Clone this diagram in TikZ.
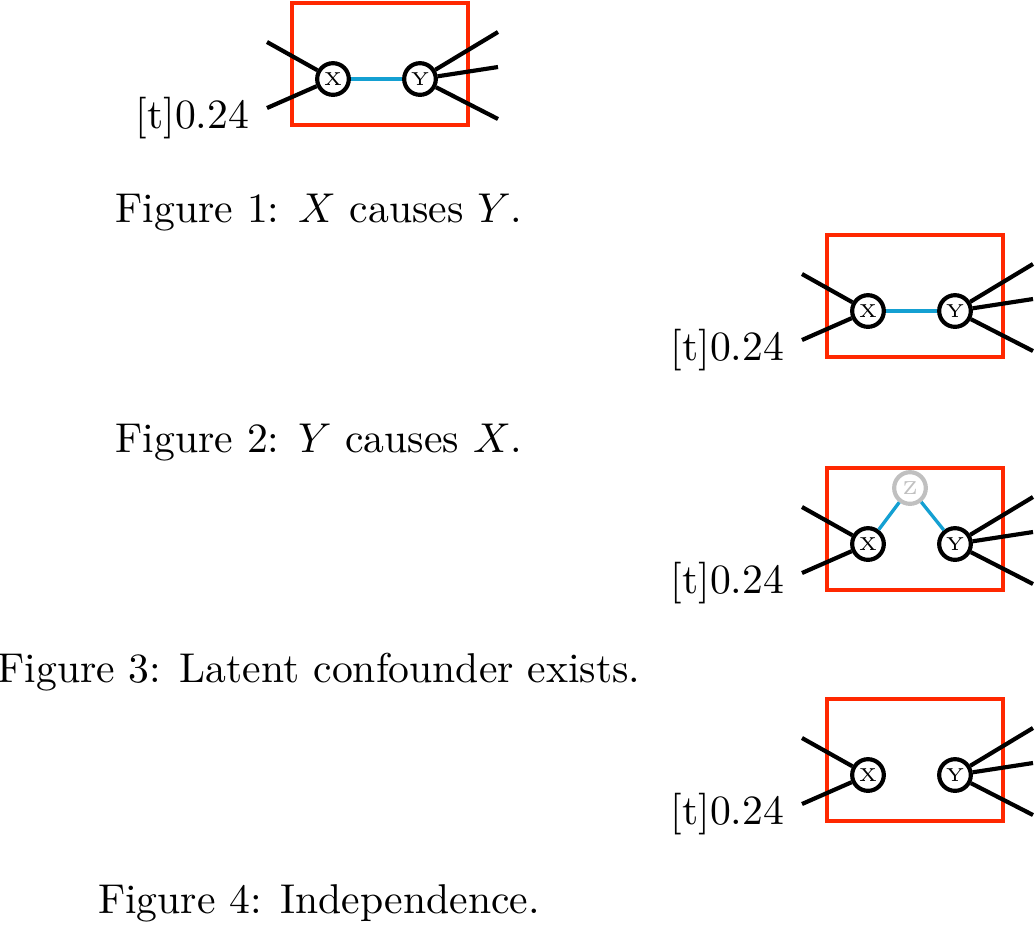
\documentclass[tikz,border=0pt]{standalone}
\usepackage{amsmath,amssymb}
\usepackage{xcolor}
\usepackage{tikz}
\usetikzlibrary{positioning}

\definecolor{boxred}{RGB}{255,40,0}
\definecolor{linkblue}{RGB}{20,160,210}
\definecolor{latentgray}{RGB}{192,192,192}

\begin{document}
\begin{tikzpicture}[
  x=0.24pt, y=-0.24pt,
  var/.style={circle, draw=black, line width=1pt, fill=white, minimum size=7.6pt, inner sep=0pt, font=\fontsize{4.5}{4.5}\selectfont},
  latent/.style={var, draw=latentgray, text=latentgray},
  frame/.style={draw=boxred, line width=1pt},
  link/.style={draw=linkblue, line width=0.8pt},
  stub/.style={draw=black, line width=1pt},
  sublabel/.style={anchor=base east, inner sep=0pt},
  figcap/.style={anchor=base, inner sep=0pt}
]
  \useasboundingbox (0,0) rectangle (1035,924);

  % Panel 1: X causes Y
  \begin{scope}[shift={(0,0)}]
    \draw[frame] (292,3) rectangle (468,125);
    \node[var] (x1) at (333,79) {X};
    \node[var] (y1) at (420,79) {Y};
    \coordinate (x1a) at (267,42);
    \coordinate (x1b) at (267,108);
    \coordinate (y1a) at (498,32);
    \coordinate (y1b) at (498,67);
    \coordinate (y1c) at (498,119);
    \draw[stub] (x1) -- (x1a);
    \draw[stub] (x1) -- (x1b);
    \draw[stub] (y1) -- (y1a);
    \draw[stub] (y1) -- (y1b);
    \draw[stub] (y1) -- (y1c);
    \draw[link] (x1) -- (y1);
    \node[sublabel] (l1) at (250,128) {[t]0.24};
  \end{scope}
  \node[figcap] (c1) at (319,222) {Figure 1: $X$ causes $Y$.};

  % Panel 2: Y causes X
  \begin{scope}[shift={(535,232)}]
    \draw[frame] (292,3) rectangle (468,125);
    \node[var] (x2) at (333,79) {X};
    \node[var] (y2) at (420,79) {Y};
    \coordinate (x2a) at (267,42);
    \coordinate (x2b) at (267,108);
    \coordinate (y2a) at (498,32);
    \coordinate (y2b) at (498,67);
    \coordinate (y2c) at (498,119);
    \draw[stub] (x2) -- (x2a);
    \draw[stub] (x2) -- (x2b);
    \draw[stub] (y2) -- (y2a);
    \draw[stub] (y2) -- (y2b);
    \draw[stub] (y2) -- (y2c);
    \draw[link] (x2) -- (y2);
    \node[sublabel] (l2) at (250,128) {[t]0.24};
  \end{scope}
  \node[figcap] (c2) at (319,452) {Figure 2: $Y$ causes $X$.};

  % Panel 3: latent confounder
  \begin{scope}[shift={(535,465)}]
    \draw[frame] (292,3) rectangle (468,125);
    \node[var] (x3) at (333,79) {X};
    \node[var] (y3) at (420,79) {Y};
    \node[latent] (z3) at (375,23) {Z};
    \coordinate (x3a) at (267,42);
    \coordinate (x3b) at (267,108);
    \coordinate (y3a) at (498,32);
    \coordinate (y3b) at (498,67);
    \coordinate (y3c) at (498,119);
    \draw[stub] (x3) -- (x3a);
    \draw[stub] (x3) -- (x3b);
    \draw[stub] (y3) -- (y3a);
    \draw[stub] (y3) -- (y3b);
    \draw[stub] (y3) -- (y3c);
    \draw[link] (x3) -- (z3);
    \draw[link] (z3) -- (y3);
    \node[sublabel] (l3) at (250,128) {[t]0.24};
  \end{scope}
  \node[figcap] (c3) at (319,682) {Figure 3: Latent confounder exists.};

  % Panel 4: independence
  \begin{scope}[shift={(535,696)}]
    \draw[frame] (292,3) rectangle (468,125);
    \node[var] (x4) at (333,79) {X};
    \node[var] (y4) at (420,79) {Y};
    \coordinate (x4a) at (267,42);
    \coordinate (x4b) at (267,108);
    \coordinate (y4a) at (498,32);
    \coordinate (y4b) at (498,67);
    \coordinate (y4c) at (498,119);
    \draw[stub] (x4) -- (x4a);
    \draw[stub] (x4) -- (x4b);
    \draw[stub] (y4) -- (y4a);
    \draw[stub] (y4) -- (y4b);
    \draw[stub] (y4) -- (y4c);
    \node[sublabel] (l4) at (250,128) {[t]0.24};
  \end{scope}
  \node[figcap] (c4) at (319,913) {Figure 4: Independence.};
\end{tikzpicture}
\end{document}
